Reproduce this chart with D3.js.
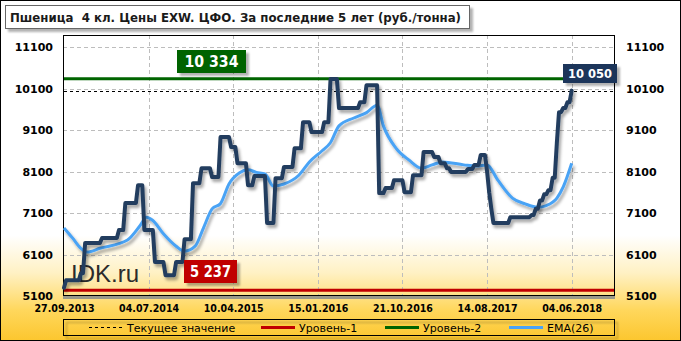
<!DOCTYPE html>
<html>
<head>
<meta charset="utf-8">
<script src="https://cdn.jsdelivr.net/npm/d3@7"></script>
<style>
  body { margin: 0; background: #fff; }
  svg { display: block; }
</style>
</head>
<body>
<svg id="chart" width="681" height="341"></svg>
<script>
// weekly prices, rub/t (week 0 = 27.09.2013)
var prices = [
  5300,5480,5480,5480,5480,5480,5480,5480,5650,5650,
  6380,6380,6380,6380,6380,6380,6380,6380,6500,6500,
  6500,6500,6500,6500,6500,6500,6690,6690,6690,7340,
  7340,7340,7340,7340,7340,7770,7770,7770,6690,6690,
  6690,6690,6690,5920,5920,5920,5920,5920,5600,5600,
  5600,5600,5600,5920,5920,5920,5920,6470,6470,6470,
  6470,7820,7820,7820,7820,8180,8180,8180,8180,8180,
  7970,7970,7970,7970,8930,8930,8930,8930,8930,8690,
  8690,8690,8300,8300,8300,8300,8300,7770,7770,7770,
  7990,7990,7990,7990,7990,7990,6860,6860,6860,6860,
  7940,7940,7940,7940,8210,8210,8210,8210,8210,8660,
  8660,8660,8660,9290,9290,9290,9290,9050,9050,9050,
  9050,9050,9050,9290,9290,9290,10330,10330,10330,10330,
  9630,9630,9630,9630,9630,9630,9630,9630,9630,9630,
  9770,9770,9770,10180,10180,10180,10180,10180,10180,7580,
  7580,7580,7700,7700,7700,7700,7890,7890,7890,7890,
  7890,7600,7600,7600,7600,8010,8010,8010,8010,8010,
  8570,8570,8570,8570,8570,8450,8450,8450,8300,8300,
  8300,8180,8180,8090,8090,8090,8090,8090,8090,8090,
  8090,8160,8160,8160,8260,8260,8260,8500,8500,8500,
  8100,7600,7200,6860,6860,6860,6860,6860,6860,6860,
  6860,7000,7000,7000,7000,7000,7000,7000,7000,7000,
  7000,7050,7050,7200,7200,7400,7400,7550,7550,7650,
  7650,7950,7950,8800,9530,9530,9630,9630,9770,9770,
  10050
];

// EMA(26) at some weeks
var emaWeeks  = [0,4,8,11,17,30,36,39,42,47,53,57,62,66,70,74,78,83,87,91,95,99,104,111,116,122,126,130,137,143,148,151,157,163,169,174,179,189,195,200,205,212,218,224,228,233,236,240];
var emaValues = [6740,6500,6250,6160,6250,6450,6800,7000,6920,6600,6300,6180,6300,6750,7200,7330,7800,8070,8140,8080,8040,7750,7800,8010,8330,8600,8800,9200,9390,9520,9700,9200,8660,8380,8180,8260,8330,8260,8230,8260,7900,7460,7320,7240,7280,7460,7730,8300];

var tickWeeks  = [0,40,80,120,160,200,240];
var tickDates  = ['27.09.2013','04.07.2014','10.04.2015','15.01.2016','21.10.2016','14.08.2017','04.06.2018'];
var yTicks     = [5100,6100,7100,8100,9100,10100,11100];

var level1 = 5237, level2 = 10334;
var current = prices[prices.length - 1];

var W = 681, H = 341;
var L = 63, R = 614, T = 35, B = 296;

var svg = d3.select('#chart');
var defs = svg.append('defs');

var grad = defs.append('linearGradient').attr('id', 'bg')
  .attr('gradientUnits', 'userSpaceOnUse')
  .attr('x1', 0).attr('y1', 0).attr('x2', 0).attr('y2', H);
grad.append('stop').attr('offset', 0.69).attr('stop-color', '#ffffff');
grad.append('stop').attr('offset', 0.80).attr('stop-color', '#fff1c4');
grad.append('stop').attr('offset', 0.91).attr('stop-color', '#ffd75c');
grad.append('stop').attr('offset', 1).attr('stop-color', '#fcc62e');

var sh = defs.append('filter').attr('id', 'shadow')
  .attr('x', '-10%').attr('y', '-10%').attr('width', '130%').attr('height', '140%');
sh.append('feDropShadow').attr('dx', 2).attr('dy', 3).attr('stdDeviation', 1.4)
  .attr('flood-color', '#000').attr('flood-opacity', 0.35);

var boxSh = defs.append('filter').attr('id', 'boxshadow')
  .attr('x', '-10%').attr('y', '-20%').attr('width', '130%').attr('height', '160%');
boxSh.append('feDropShadow').attr('dx', 3).attr('dy', 3).attr('stdDeviation', 1)
  .attr('flood-color', '#000').attr('flood-opacity', 0.3);

svg.append('rect').attr('width', W).attr('height', H).attr('fill', 'url(#bg)');
svg.append('rect').attr('x', 0.5).attr('y', 0.5).attr('width', W - 1).attr('height', H - 1)
  .attr('fill', 'none').attr('stroke', '#000');

// title
svg.append('rect').attr('x', 5.5).attr('y', 5.5).attr('width', 464).attr('height', 23)
  .attr('fill', '#fff').attr('stroke', '#666').attr('filter', 'url(#boxshadow)');
svg.append('text').attr('x', 10).attr('y', 22)
  .attr('font-family', 'DejaVu Sans, Verdana, sans-serif').attr('font-weight', 'bold')
  .attr('font-size', 13).attr('fill', '#1a1a1a').style('white-space', 'pre')
  .attr('textLength', 451).attr('lengthAdjust', 'spacingAndGlyphs')
  .text('Пшеница  4 кл. Цены EXW. ЦФО. За последние 5 лет (руб./тонна)');

var x = d3.scaleLinear().domain([0, 260]).range([L + 1, R]);
var y = d3.scaleLinear().domain([5100, 11390]).range([B, T]);

// grid
var grid = svg.append('g').attr('stroke', '#bdbdbd').attr('stroke-dasharray', '4,3').attr('stroke-width', 1);
grid.selectAll('.h').data(yTicks.slice(1)).enter().append('line')
  .attr('x1', L).attr('x2', R)
  .attr('y1', function(d){ return Math.round(y(d)) + 0.5; })
  .attr('y2', function(d){ return Math.round(y(d)) + 0.5; });
grid.selectAll('.v').data(tickWeeks.slice(1)).enter().append('line')
  .attr('y1', T).attr('y2', B)
  .attr('x1', function(d){ return Math.round(x(d)) + 0.5; })
  .attr('x2', function(d){ return Math.round(x(d)) + 0.5; });

// plot frame
svg.append('line').attr('x1', L).attr('x2', R + 1).attr('y1', B + 1.5).attr('y2', B + 1.5)
  .attr('stroke', '#9a9a8a').attr('stroke-width', 3);
svg.append('rect').attr('x', L + 0.5).attr('y', T + 0.5).attr('width', R - L).attr('height', B - T - 1)
  .attr('fill', 'none').attr('stroke', '#000');

// levels
svg.append('line').attr('x1', L + 1).attr('x2', R).attr('y1', y(level2)).attr('y2', y(level2))
  .attr('stroke', '#006400').attr('stroke-width', 3);
svg.append('line').attr('x1', L + 1).attr('x2', R).attr('y1', y(level1)).attr('y2', y(level1))
  .attr('stroke', '#c00000').attr('stroke-width', 3);
svg.append('line').attr('x1', L + 1).attr('x2', R).attr('y1', Math.round(y(current)) + 0.5).attr('y2', Math.round(y(current)) + 0.5)
  .attr('stroke', '#000').attr('stroke-dasharray', '3,3');

// watermark
svg.append('text').attr('x', 71).attr('y', 282)
  .attr('font-family', 'Liberation Sans, Arial, sans-serif').attr('font-size', 24)
  .attr('fill', '#2b2b2b').text('IDK.ru');

// EMA
var emaData = emaWeeks.map(function(w, i){ return [w, emaValues[i]]; });
svg.append('path').datum(emaData)
  .attr('fill', 'none').attr('stroke', '#4aa3f5').attr('stroke-width', 3)
  .attr('stroke-linejoin', 'round').attr('filter', 'url(#shadow)')
  .attr('d', d3.line().x(function(d){ return x(d[0]); }).y(function(d){ return y(d[1]); }).curve(d3.curveMonotoneX));

// price
svg.append('path').datum(prices)
  .attr('fill', 'none').attr('stroke', '#243d5e').attr('stroke-width', 4)
  .attr('stroke-linejoin', 'round').attr('stroke-linecap', 'round').attr('filter', 'url(#shadow)')
  .attr('d', d3.line().x(function(d, i){ return x(i); }).y(function(d){ return y(d); }));

// value boxes
function valueBox(cx, cy, w, h, fill, txt, fs, tl) {
  svg.append('rect').attr('x', cx).attr('y', cy).attr('width', w).attr('height', h)
    .attr('fill', fill).attr('filter', 'url(#boxshadow)');
  svg.append('text').attr('x', cx + w / 2).attr('y', cy + h / 2 + fs * 0.36)
    .attr('text-anchor', 'middle').attr('font-family', 'DejaVu Sans, Verdana, sans-serif')
    .attr('font-weight', 'bold').attr('font-size', fs).attr('fill', '#fff')
    .attr('textLength', tl).attr('lengthAdjust', 'spacingAndGlyphs').text(txt);
}
var fmt = function(v){ return d3.format(',')(v).replace(',', ' '); };
valueBox(177, 50, 69, 23, '#006400', fmt(level2), 16, 54);
valueBox(184, 260, 53, 23, '#c00000', fmt(level1), 16, 41);
valueBox(563, 64, 54, 19, '#1b365a', fmt(current), 12.5, 44);

// axes
var fontAxis = 'DejaVu Sans, Verdana, sans-serif';
var yl = svg.append('g').attr('transform', 'translate(' + L + ',0)')
  .call(d3.axisLeft(y).tickValues(yTicks).tickSize(0).tickPadding(10).tickFormat(d3.format('d')));
var yr = svg.append('g').attr('transform', 'translate(' + R + ',0)')
  .call(d3.axisRight(y).tickValues(yTicks).tickSize(0).tickPadding(12).tickFormat(d3.format('d')));
var xa = svg.append('g').attr('transform', 'translate(0,' + B + ')')
  .call(d3.axisBottom(x).tickValues(tickWeeks).tickSize(0).tickPadding(8.5)
    .tickFormat(function(d, i){ return tickDates[i]; }));
[yl, yr, xa].forEach(function(g){
  g.select('.domain').remove();
  g.selectAll('text').attr('font-family', fontAxis).attr('font-weight', 'bold')
    .attr('font-size', 11).attr('fill', '#000');
});
xa.selectAll('text').attr('font-size', 10.5).attr('textLength', 60).attr('lengthAdjust', 'spacingAndGlyphs');

// legend
var lg = svg.append('g');
lg.append('rect').attr('x', 63.5).attr('y', 319.5).attr('width', 551).attr('height', 16)
  .attr('fill', 'none').attr('stroke', '#000').attr('filter', 'url(#boxshadow)');
var legItems = [
  { x: 89, text: 'Текущее значение', color: '#000', w: 1, dash: '3,3' },
  { x: 261, text: 'Уровень-1', color: '#c00000', w: 3, dash: null },
  { x: 385, text: 'Уровень-2', color: '#006400', w: 3, dash: null },
  { x: 509, text: 'EMA(26)', color: '#4aa3f5', w: 3, dash: null }
];
legItems.forEach(function(d){
  lg.append('line').attr('x1', d.x).attr('x2', d.x + 34).attr('y1', 327.5).attr('y2', 327.5)
    .attr('stroke', d.color).attr('stroke-width', d.w).attr('stroke-dasharray', d.dash);
  lg.append('text').attr('x', d.x + 38).attr('y', 331.5)
    .attr('font-family', fontAxis).attr('font-size', 11).attr('fill', '#000').text(d.text);
});
</script>
</body>
</html>
